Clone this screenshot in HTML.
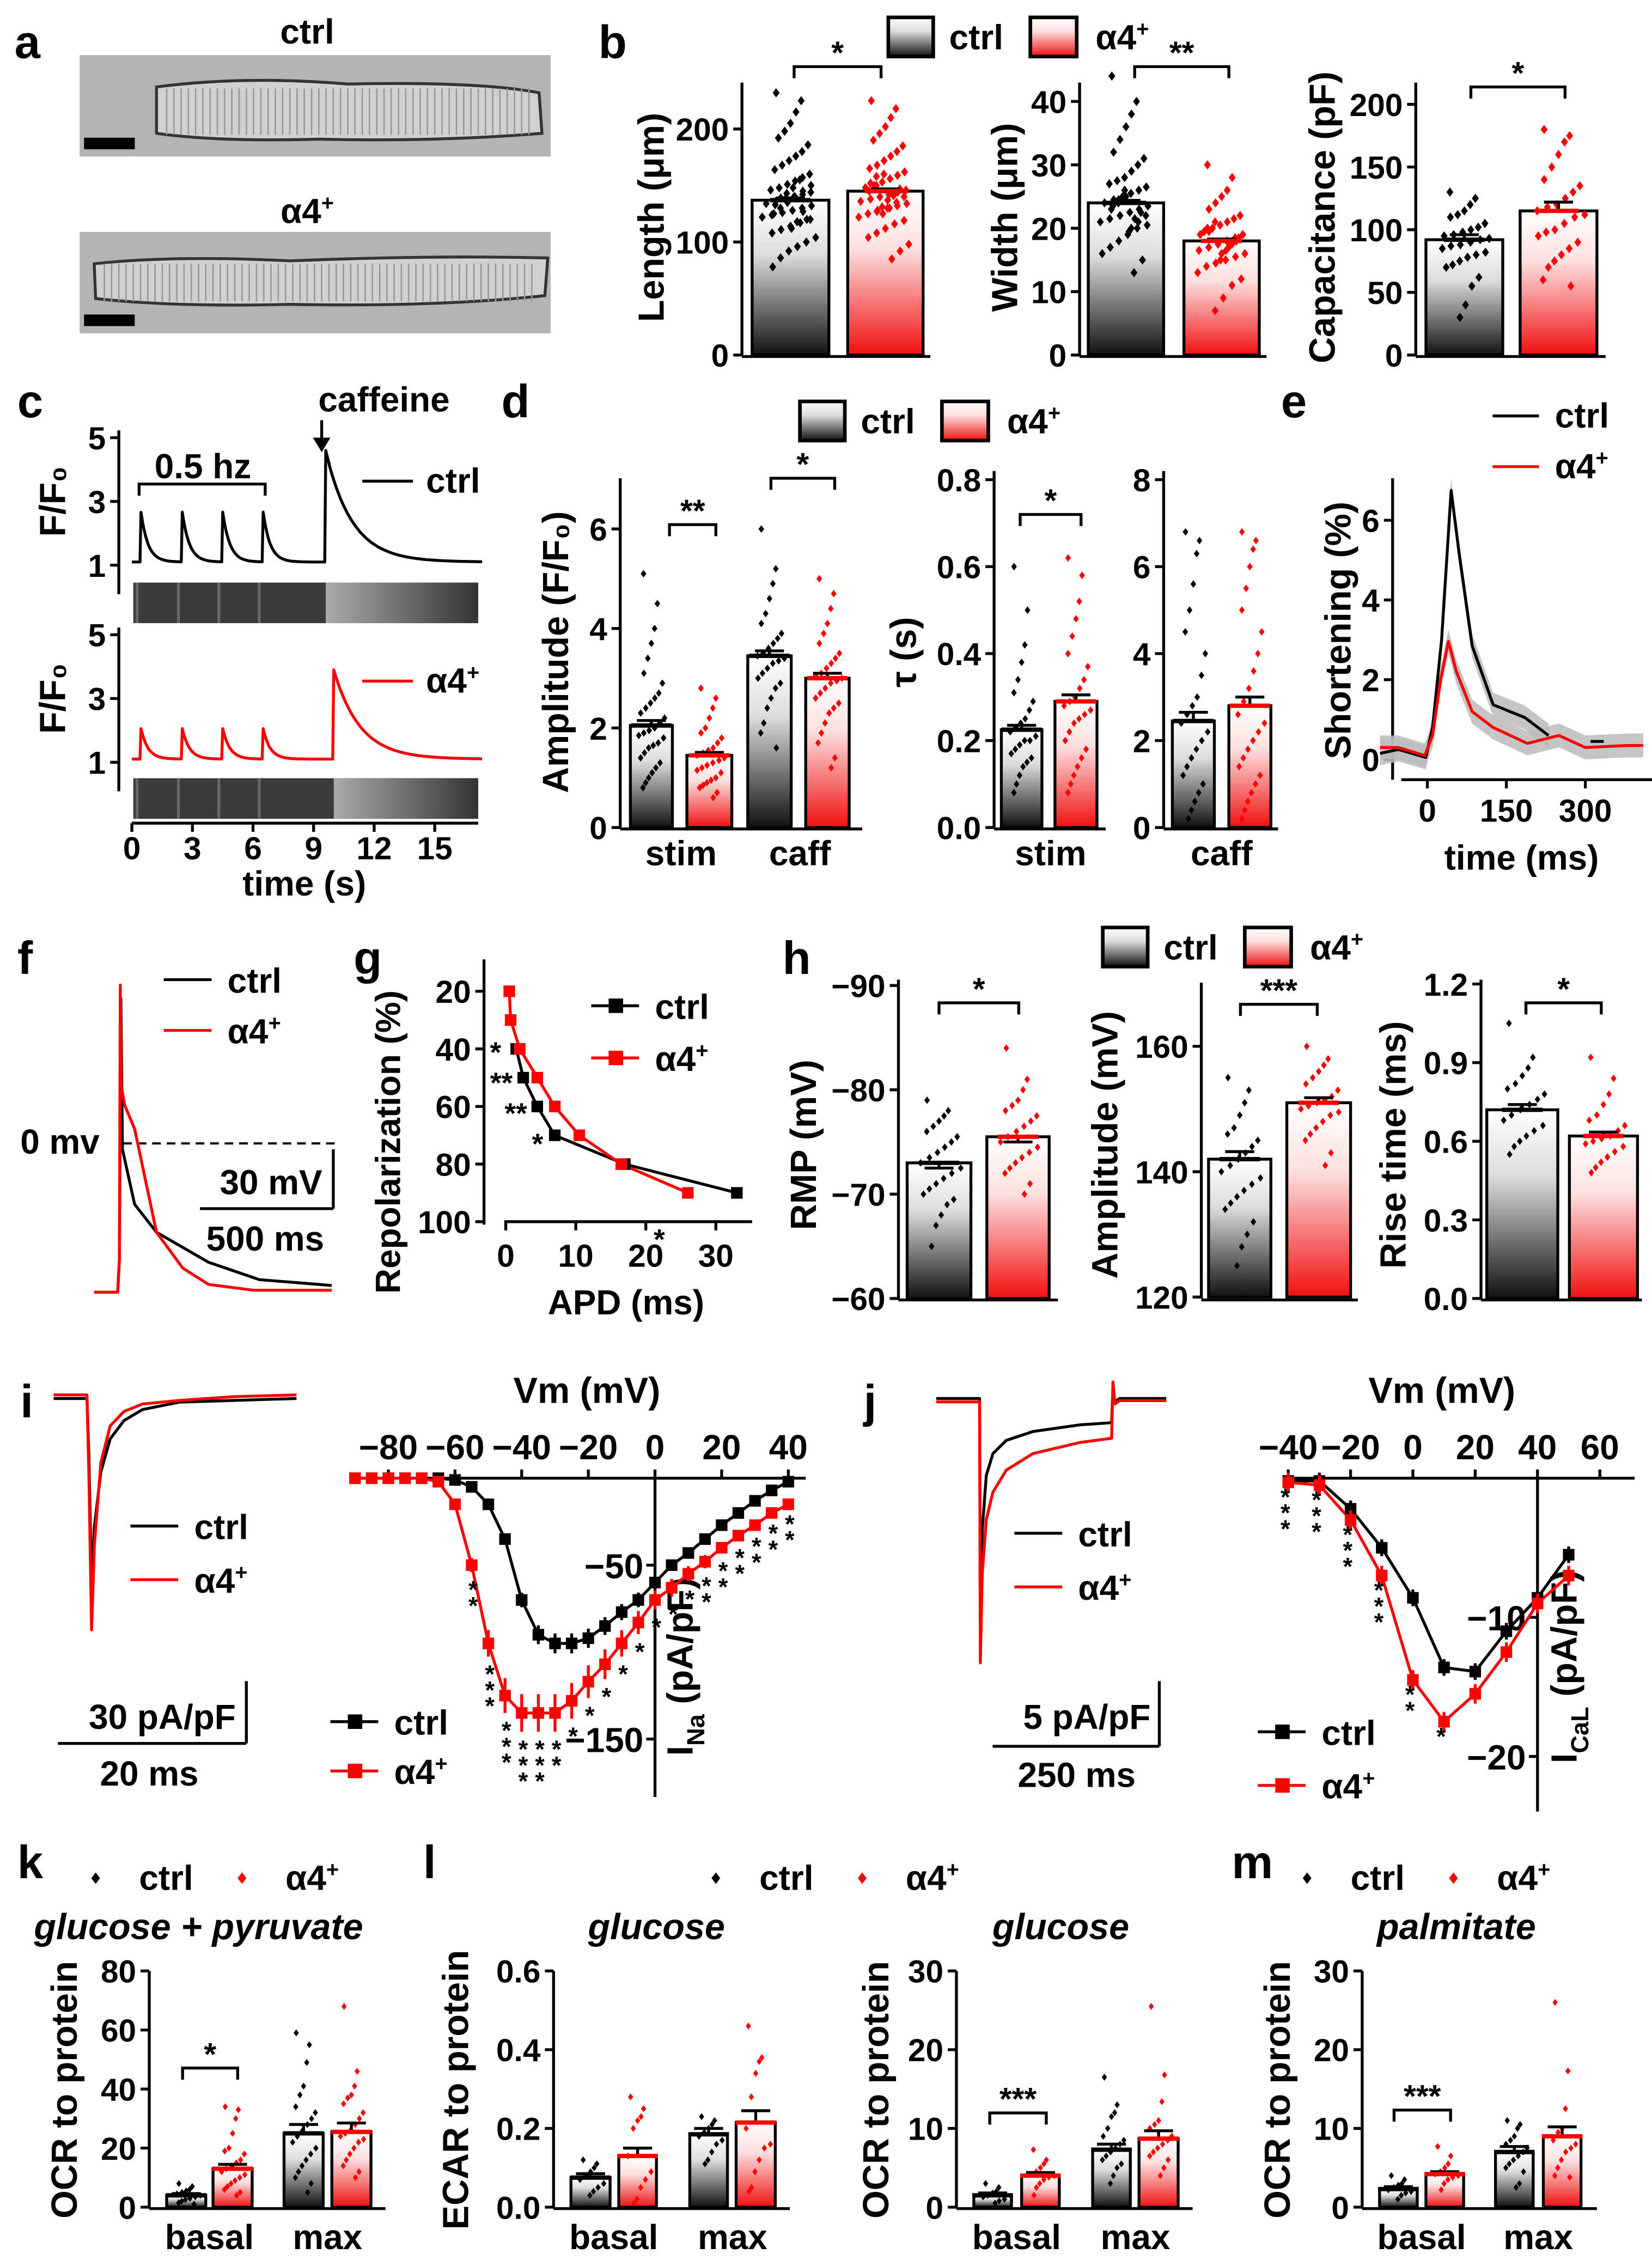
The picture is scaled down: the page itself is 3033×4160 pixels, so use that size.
<!DOCTYPE html>
<html><head><meta charset="utf-8"><style>
html,body{margin:0;padding:0;background:#fff;}
svg{display:block;}
text{font-family:"Liberation Sans",Arial,sans-serif;font-weight:bold;fill:#000;}
</style></head><body>
<svg id="fig" xmlns="http://www.w3.org/2000/svg" width="3033" height="4160" viewBox="0 0 1140 1563.6" preserveAspectRatio="none">
<defs>
<linearGradient id="gK" x1="0" y1="0" x2="0" y2="1"><stop offset="0" stop-color="#fff"/><stop offset="0.35" stop-color="#ddd"/><stop offset="1" stop-color="#111"/></linearGradient>
<linearGradient id="gR" x1="0" y1="0" x2="0" y2="1"><stop offset="0" stop-color="#fff"/><stop offset="0.35" stop-color="#fde0e0"/><stop offset="1" stop-color="#f01010"/></linearGradient>
<linearGradient id="gStrip" x1="0" y1="0" x2="1" y2="0"><stop offset="0" stop-color="#aaa"/><stop offset="1" stop-color="#333"/></linearGradient>
</defs>
</svg>
<script>
// ---------- data ----------
const groupNames=['ctrl','α4+'];
// b
const lenMean=[137,145], lenSem=[2,2];
const lenCtrl=[232,225,215,205,198,192,186,180,176,172,168,164,160,157,154,151,148,146,144,142,140,138,136,134,132,130,128,126,124,122,120,117,114,111,108,104,100,96,92,86,78,150,145,140,135,130,125,120,155,148,143,139,133,127,118,112];
const lenA4=[225,218,210,202,196,190,185,180,176,172,168,165,162,159,156,153,150,148,146,144,142,140,138,136,134,132,130,128,125,122,119,116,112,108,104,98,92,85,160,150,145,140,135,130,125,158,152,147,141,137,131,127];
const widMean=[24,18], widSem=[0.4,0.3];
const widCtrl=[44,40,38,36,34,32,31,30,29,28,27.5,27,26.5,26,25.5,25,24.5,24,23.5,23,22.5,22,21.5,21,20.5,20,19,18,17,16,15,13,25,24,23,22,21,20,26,24.5,23.5,22.5,21.5,19.5];
const widA4=[30,28,26,25,24,23,22,21.5,21,20.5,20,19.5,19,18.5,18,17.5,17,16.5,16,15.5,15,14.5,14,13,12,11,9,7,20,19,18,17,16,21,19.5,18.5,17.5,16.5,15];
const capMean=[92,115], capSem=[4,7];
const capCtrl=[130,125,120,115,112,110,105,102,100,98,96,95,93,92,90,88,87,85,82,80,78,75,72,70,62,55,40,30];
const capA4=[180,175,170,160,150,140,135,130,125,120,118,115,112,110,105,100,98,95,90,85,80,75,70,60,55];
// d
const ampMean=[2.05,1.45,3.45,3.0], ampSem=[0.1,0.06,0.1,0.1];
const stimCtrl=[5.1,4.5,4.0,3.7,3.4,3.1,2.9,2.7,2.6,2.5,2.4,2.3,2.2,2.1,2.0,1.95,1.9,1.85,1.8,1.7,1.65,1.6,1.5,1.4,1.3,1.2,1.1,1.0,0.9,0.8];
const stimA4=[2.8,2.6,2.4,2.2,2.0,1.9,1.8,1.7,1.6,1.55,1.5,1.45,1.4,1.35,1.3,1.25,1.2,1.15,1.1,1.0,0.95,0.9,0.85,0.8,0.7,0.6];
const caffCtrl=[6.0,5.2,4.9,4.6,4.3,4.1,3.9,3.8,3.7,3.6,3.5,3.45,3.4,3.35,3.3,3.2,3.1,3.0,2.9,2.8,2.6,2.4,2.1,1.9,1.6];
const caffA4=[5.0,4.7,4.4,4.1,3.9,3.7,3.5,3.4,3.3,3.2,3.1,3.05,3.0,2.95,2.9,2.8,2.7,2.6,2.5,2.4,2.3,2.1,1.9,1.7,1.4,1.2];
const tauStimMean=[0.225,0.29], tauStimSem=[0.01,0.015];
const tauStimCtrl=[0.6,0.5,0.42,0.38,0.34,0.31,0.29,0.27,0.25,0.24,0.23,0.22,0.21,0.2,0.2,0.19,0.18,0.17,0.16,0.15,0.14,0.12,0.1,0.08];
const tauStimA4=[0.62,0.58,0.52,0.48,0.44,0.4,0.37,0.34,0.32,0.3,0.29,0.28,0.27,0.26,0.25,0.24,0.22,0.2,0.18,0.16,0.14,0.12,0.1,0.08];
const tauCaffMean=[2.45,2.8], tauCaffSem=[0.2,0.2];
const tauCaffCtrl=[6.8,6.6,6.3,5.6,5.0,4.5,4.0,3.5,3.0,2.8,2.6,2.4,2.2,2.0,1.8,1.6,1.4,1.2,1.0,0.8,0.6,0.4,0.2];
const tauCaffA4=[6.8,6.6,6.4,6.0,5.5,5.0,4.5,4.0,3.6,3.2,2.9,2.6,2.4,2.2,2.0,1.8,1.6,1.4,1.2,1.0,0.8,0.6,0.4,0.2];
// h
const rmpMean=[-73,-75.5], rmpSem=[0.5,0.5];
const rmpCtrl=[-79,-78,-77.5,-77,-76.5,-76,-75.5,-75,-74.5,-74,-73.5,-73,-72.5,-72,-71.5,-71,-70.5,-70,-69.5,-69,-68,-67,-65];
const rmpA4=[-84,-81,-80,-79,-78.5,-78,-77.5,-77,-76.5,-76,-75.5,-75,-74.5,-74,-73.5,-73,-72.5,-72,-71,-70];
const apAmpMean=[142,151], apAmpSem=[1.2,0.8];
const apAmpCtrl=[155,153,151,149,147,146,145,144,143,142,141,140,139,138,137,136,135,134,132,130,128,125];
const apAmpA4=[160,158,157,156,155,154,153,152,151.5,151,150.5,150,149.5,149,148,147,146,145,143,141];
const riseMean=[0.72,0.62], riseSem=[0.02,0.015];
const riseCtrl=[1.05,0.92,0.88,0.85,0.82,0.8,0.78,0.76,0.74,0.72,0.7,0.68,0.66,0.64,0.62,0.6,0.58,0.55];
const riseA4=[0.92,0.84,0.78,0.74,0.7,0.68,0.66,0.64,0.62,0.61,0.6,0.59,0.58,0.56,0.54,0.52,0.5,0.48];
// k l m
const kMean=[4,13,25,25.5], kSem=[0.6,1.5,3,3];
const kBasalCtrl=[8,7,6,5.5,5,4.5,4,3.5,3,2.5,2,1.5,1];
const kBasalA4=[34,33,30,25,20,19,18,16,15,14,13,12,11,10,9,8,7,6,5,4];
const kMaxCtrl=[59,55,49,41,38,34,32,30,28,26,24,22,20,18,16,14,12,10,8,5];
const kMaxA4=[68,46,41,38,37,35,32,30,28,26,25,24,23,22,20,18,16,14,12,10];
const ecarMean=[0.075,0.13,0.185,0.215], ecarSem=[0.01,0.02,0.015,0.03];
const ecarBasalCtrl=[0.12,0.11,0.1,0.09,0.08,0.07,0.06,0.05,0.04,0.03];
const ecarBasalA4=[0.28,0.25,0.23,0.22,0.2,0.13,0.09,0.07,0.05,0.02,0.01];
const ecarMaxCtrl=[0.23,0.22,0.21,0.2,0.19,0.18,0.17,0.16,0.14,0.12,0.11];
const ecarMaxA4=[0.46,0.38,0.37,0.34,0.28,0.2,0.16,0.15,0.12,0.09,0.05,0.04];
const lMean=[1.5,4,7.3,8.7], lSem=[0.3,0.4,0.7,1];
const lBasalCtrl=[3,2.5,2,1.8,1.5,1.3,1,0.8,0.5];
const lBasalA4=[7.3,6,5.5,5,4.5,4.2,4,3.8,3.5,3,2.5,1.5];
const lMaxCtrl=[16.5,13,12,11.5,10,9,8.5,8,7.5,7,6.5,6,5.5,5,4,3];
const lMaxA4=[25.5,16.8,13.4,11,10.5,10,9,8.5,8,7.5,7,6.5,6,5,4];
const mMean=[2.3,4.2,7,9], mSem=[0.3,0.3,0.7,1.2];
const mBasalCtrl=[4,3.5,3,2.8,2.5,2.2,2,1.8,1.5,1];
const mBasalA4=[7.7,6.5,5.5,5,4.5,4.2,4,3.8,3.5,3,2.2];
const mMaxCtrl=[11,10.5,10,9,8.5,8,7.5,7,6.5,6,5.5,5,4.5,3,2.5];
const mMaxA4=[26,17.3,12.5,10,9.5,8.5,8,7.5,7,6,5,4,3.8];
// c: Ca transients
const cSpikeT=[0.4,2.45,4.45,6.45], cCtrlCaffT=9.6, cA4CaffT=10.0;
const cCtrlBase=1.1, cCtrlSpike=2.9, cCtrlCaff=4.6;
const cA4Base=1.1, cA4Spike=2.2, cA4Caff=3.9;
// e: shortening
const eCtrlT=[-90,-55,-3,10,27,45,60,85,125,185,230];
const eCtrl=[0.15,0.25,0.05,0.8,3,6.75,5.2,2.85,1.37,1.05,0.6];
const eCtrlTailT=[310,335], eCtrlTail=[0.45,0.45];
const eA4T=[-90,-55,-5,10,25,40,55,85,125,190,250,300,380,410];
const eA4=[0.3,0.3,0.1,0.6,2,2.96,2.2,1.2,0.8,0.4,0.6,0.3,0.35,0.35];
// f: AP
const fCtrlT=[-98,-10,-3,2,8,54,136,331,522,793];
const fCtrlV=[-77,-77,-60,75,-3,-31.5,-46,-61.5,-70.5,-73.5];
const fA4T=[-98,-10,-3,0,4,16,54,136,234,331,500,793];
const fA4V=[-77,-77,-60,82,30,20,7.5,-46,-64.5,-73,-76,-76];
// g
const gCtrlAPD=[1.5,2.5,4.5,7,17,33], gCtrlRep=[40,50,60,70,80,90];
const gA4APD=[0.5,0.7,2,4.5,7,10.5,16.5,26], gA4Rep=[20,30,40,50,60,70,80,90];
// i
const iTrT=[-3.6,0,0.2,0.5,0.8,1.5,2.5,4,6,10,16,22.6];
const iTrCtrl=[0,0,-30,-102,-70,-40,-22,-12,-6,-2,-1,0];
const iTrA4=[2,2,-40,-126,-80,-35,-15,-7,-3,-1,1,2];
const ivNaV=[-90,-85,-80,-75,-70,-65,-60,-55,-50,-45,-40,-35,-30,-25,-20,-15,-10,-5,0,5,10,15,20,25,30,35,40];
const ivNaCtrl=[0,0,0,0,0,0,-1,-5,-15,-35,-70,-90,-95,-95,-92,-85,-77,-70,-60,-50,-43,-35,-27,-20,-13,-7,-2];
const ivNaA4=[0,0,0,0,0,-2,-15,-50,-95,-125,-135,-135,-135,-128,-117,-107,-95,-83,-70,-63,-55,-48,-40,-33,-27,-20,-15];
const ivNaSig=['','','','','','','','**','***','***','***','***','**','*','*','*','*','*','*','*','*','**','**','**','**','**','**'];
// j
const jTrT=[-65,0,1,4,10,20,40,80,150,198,200,203,210,280];
const jTrCtrl=[0,0,-21,-12,-7,-5,-3.8,-3,-2.4,-2.2,1,-0.3,0,0];
const jTrA4=[-0.3,-0.3,-24,-16,-11,-8.5,-6.5,-5,-4,-3.6,1.5,-0.5,-0.2,-0.2];
const ivCaV=[-40,-30,-20,-10,0,10,20,30,40,50];
const ivCaCtrl=[-0.2,-0.2,-2.2,-5,-8.6,-13.6,-13.9,-11,-8.6,-5.5];
const ivCaA4=[-0.3,-0.5,-3,-7,-14.5,-17.5,-15.5,-12.5,-9,-7];
const ivCaSig=['***','***','***','***','**','*','','','',''];

// ---------- helpers ----------
const NS='http://www.w3.org/2000/svg';
const svg=document.getElementById('fig');
function mk(tag,attrs,name,parent){
  const el=document.createElementNS(NS,tag);
  for(const k in attrs) el.setAttribute(k,attrs[k]);
  
  
  (parent||svg).appendChild(el);
  return el;
}
function lin(d0,d1,r0,r1){return v=>r0+(v-d0)*(r1-r0)/(d1-d0);}
function T(x,y,s,name,o){
  o=o||{};
  const el=mk('text',{x:x,y:y,'font-size':o.fs||22,'text-anchor':o.a||'middle'},name);
  if(o.rot) el.setAttribute('transform','rotate(-90 '+x+' '+y+')');
  if(o.italic) el.setAttribute('font-style','italic');
  if(o.html) el.innerHTML=s; else el.textContent=s;
  return el;
}
const A4='α4<tspan dy="-9" font-size="15">+</tspan>';
function L(x1,y1,x2,y2,name,c,w){return mk('line',{x1:x1,y1:y1,x2:x2,y2:y2,stroke:c||'#000','stroke-width':w||2},name);}
function poly(xs,ys,sx,sy,name,c,w){
  const pts=xs.map((x,i)=>sx(x).toFixed(1)+','+sy(ys[i]).toFixed(1)).join(' ');
  return mk('polyline',{points:pts,fill:'none',stroke:c,'stroke-width':w||2,'stroke-linejoin':'round'},name);
}
function yAxis(x,sy,ticks,labels,top,bot,name){
  L(x,top,x,bot,name+'-line');
  ticks.forEach((t,i)=>{L(x-6,sy(t),x,sy(t),name+'-tick');T(x-9,sy(t)+8,labels[i],name+'-tick-label',{a:'end'});});
}
function bracket(x1,x2,y,label,name){
  mk('path',{d:`M${x1},${y+8}V${y}H${x2}V${y+8}`,fill:'none',stroke:'#000','stroke-width':2},name);
  T((x1+x2)/2,y-2,label,name+'-label',{fs:22});
}
function diamond(cx,cy,r,c,name){
  return mk('path',{d:`M${cx},${cy-r}L${cx+r*0.75},${cy}L${cx},${cy+r}L${cx-r*0.75},${cy}Z`,fill:c},name);
}
function bars(groups,sy,base,name,r){
  groups.forEach((g,gi)=>{
    const yb=sy(base), ym=sy(g.mean);
    mk('rect',{x:g.x0,y:Math.min(yb,ym),width:g.x1-g.x0,height:Math.abs(yb-ym),fill:'url(#'+(g.red?'gR':'gK')+')',stroke:'#000','stroke-width':2},name+'-bar-'+gi);
    const w=g.x1-g.x0, cx=(g.x0+g.x1)/2, c=g.red?'#f00':'#000';
    g.pts.forEach((v,i)=>{
      const j=(((i*53)%29)/28-0.5)*w*0.75*(1-Math.min(0.6,Math.abs(i-g.pts.length/2)/g.pts.length));
      diamond(cx+j,sy(v),r||3.2,c,name+'-point');
    });
    const ye=sy(g.mean+(sy(base)>sy(g.mean)?g.sem:-g.sem));
    L(cx,ym,cx,ye,name+'-errorbar');
    L(cx-10,ye,cx+10,ye,name+'-errorcap');
    L(cx-14,ym,cx+14,ym,name+'-mean',c,3);
  });
}
function legendBoxes(x,y,name){
  mk('rect',{x:x,y:y,width:31,height:27,fill:'url(#gK)',stroke:'#000','stroke-width':2.5},name+'-ctrl-swatch');
  T(x+42,y+22,'ctrl',name+'-ctrl-label',{a:'start',fs:24});
  mk('rect',{x:x+98,y:y,width:32,height:27,fill:'url(#gR)',stroke:'#000','stroke-width':2.5},name+'-a4-swatch');
  T(x+143,y+22,A4,name+'-a4-label',{a:'start',fs:24,html:1});
}
function legendLines(x,y1,y2,name,marker){
  L(x,y1,x+33,y1,name+'-ctrl-line','#000',2);
  L(x,y2,x+33,y2,name+'-a4-line','#f00',2);
  if(marker){mk('rect',{x:x+12,y:y1-5,width:10,height:10,fill:'#000'},name+'-ctrl-marker');mk('rect',{x:x+12,y:y2-5,width:10,height:10,fill:'#f00'},name+'-a4-marker');}
  T(x+44,y1+9,'ctrl',name+'-ctrl-label',{a:'start',fs:24});
  T(x+44,y2+9,A4,name+'-a4-label',{a:'start',fs:24,html:1});
}
function letter(x,y,s){T(x,y,s,'panel-label-'+s,{a:'start',fs:32});}

// ---------- panel letters ----------
[['a',10,40],['b',413,40],['c',12,288],['d',346,288],['e',884,288],['f',12,672],['g',244,672],['h',540,672],['i',14,978],['j',596,978],['k',12,1296],['l',292,1296],['m',850,1296]].forEach(p=>letter(p[1],p[2],p[0]));

// ---------- a: cell images ----------
[[38,'M108,60 Q170,52 240,58 Q330,56 372,64 L374,92 Q300,98 220,96 Q150,98 108,92 Z'],[160,'M65,182 Q120,176 200,180 Q300,176 378,178 L376,204 Q300,212 200,210 Q120,212 66,206 Z']].forEach((c,i)=>{
  mk('rect',{x:55,y:c[0],width:325,height:70,fill:'#b4b4b4'},'cell-image-'+i);
  mk('path',{d:c[1],fill:'#d0d0d0',stroke:'#333','stroke-width':2},'cell-outline-'+i);
  mk('rect',{x:58,y:c[0]+57,width:35,height:8,fill:'#000'},'scale-bar-'+i);
});
T(212,30,'ctrl','image-title-ctrl',{fs:24});
T(212,154,A4,'image-title-a4',{fs:24,html:1});
for(let x=115;x<370;x+=5){L(x,61,x,93,'cell-striation','#999',1);}
for(let x=72;x<372;x+=5){L(x,182,x,208,'cell-striation','#999',1);}

// ---------- b ----------
legendBoxes(613,12,'legend-b');
{const sy=lin(0,200,245,89);
 yAxis(512,sy,[0,100,200],['0','100','200'],57,245,'b-length-yaxis');
 L(512,246,642,246,'b-length-xaxis');
 bars([{x0:519,x1:572,mean:lenMean[0],sem:lenSem[0],pts:lenCtrl},{x0:585,x1:637,mean:lenMean[1],sem:lenSem[1],pts:lenA4,red:1}],sy,0,'b-length');
 bracket(548,608,46,'*','b-length-sig');
 T(458,150,'Length (μm)','b-length-ylabel',{rot:1,fs:25});}
{const sy=lin(0,40,245,70);
 yAxis(745,sy,[0,10,20,30,40],['0','10','20','30','40'],57,245,'b-width-yaxis');
 L(745,246,874,246,'b-width-xaxis');
 bars([{x0:751,x1:803,mean:widMean[0],sem:widSem[0],pts:widCtrl},{x0:817,x1:869,mean:widMean[1],sem:widSem[1],pts:widA4,red:1}],sy,0,'b-width');
 bracket(783,848,46,'**','b-width-sig');
 T(702,150,'Width (μm)','b-width-ylabel',{rot:1,fs:25});}
{const sy=lin(0,200,245,72);
 yAxis(977,sy,[0,50,100,150,200],['0','50','100','150','200'],57,245,'b-cap-yaxis');
 L(977,246,1108,246,'b-cap-xaxis');
 bars([{x0:984,x1:1037,mean:capMean[0],sem:capSem[0],pts:capCtrl},{x0:1049,x1:1102,mean:capMean[1],sem:capSem[1],pts:capA4,red:1}],sy,0,'b-cap');
 bracket(1015,1080,60,'*','b-cap-sig');
 T(921,150,'Capacitance (pF)','b-cap-ylabel',{rot:1,fs:25});}

// ---------- c ----------
function caTrace(base,spike,caff,caffT){
  const ts=[],vs=[];
  for(let t=0;t<=17.4;t+=0.05){
    let v=base;
    cSpikeT.forEach(s=>{if(t>=s){v+=(spike-base)*Math.exp(-(t-s)/0.35);}});
    if(t>=caffT){v+=(caff-base)*Math.exp(-(t-caffT)/1.3);}
    ts.push(t);vs.push(v);
  }
  return [ts,vs];
}
{const sx=lin(0,15,91,300);
 [[302,390,cCtrlBase,cCtrlSpike,cCtrlCaff,'#000','c-ctrl-trace',402,cCtrlCaffT],[438,526,cA4Base,cA4Spike,cA4Caff,'#f00','c-a4-trace',537,cA4CaffT]].forEach(r=>{
  const sy=lin(5,1,r[0],r[1]);
  yAxis(82,sy,[1,3,5],['1','3','5'],r[0]-5,r[1]+20,r[6]+'-yaxis');
  const tr=caTrace(r[2],r[3],r[4],r[8]);
  poly(tr[0],tr[1],sx,sy,r[6],r[5],2);
  mk('rect',{x:92,y:r[7],width:238,height:28,fill:'#3a3a3a'},r[6]+'-linescan');
  mk('rect',{x:sx(r[8]),y:r[7],width:330-sx(r[8]),height:28,fill:'url(#gStrip)'},r[6]+'-linescan-caffeine');
  cSpikeT.forEach(s=>L(sx(s)-2,r[7],sx(s)-2,r[7]+28,r[6]+'-linescan-band','#666',2));
  T(45,(r[0]+r[1])/2,'F/F₀','c-ylabel',{rot:1,fs:25});
 });
 L(91,568,330,568,'c-xaxis');
 [0,3,6,9,12,15].forEach(t=>{L(sx(t),568,sx(t),574,'c-xtick');T(sx(t),593,String(t),'c-xtick-label');});
 T(210,618,'time (s)','c-xlabel',{fs:24});
 mk('path',{d:'M96,342V334H183V342',fill:'none',stroke:'#000','stroke-width':2},'c-pacing-bracket');
 T(140,330,'0.5 hz','c-pacing-label',{fs:24});
 T(265,284,'caffeine','c-caffeine-label',{fs:24});
 L(222,290,222,308,'c-caffeine-arrow');
 mk('path',{d:'M216,302L222,312L228,302Z',fill:'#000'},'c-caffeine-arrowhead');
 L(250,332,285,332,'c-legend-ctrl-line','#000');T(294,340,'ctrl','c-legend-ctrl',{a:'start',fs:24});
 L(250,470,285,470,'c-legend-a4-line','#f00');T(294,478,A4,'c-legend-a4',{a:'start',fs:24,html:1});}

// ---------- d ----------
legendBoxes(552,277,'legend-d');
{const sy=lin(0,6,571,365);
 yAxis(428,sy,[0,2,4,6],['0','2','4','6'],330,571,'d-amp-yaxis');
 L(428,572,595,572,'d-amp-xaxis');
 bars([{x0:435,x1:464,mean:ampMean[0],sem:ampSem[0],pts:stimCtrl},{x0:474,x1:505,mean:ampMean[1],sem:ampSem[1],pts:stimA4,red:1},{x0:516,x1:546,mean:ampMean[2],sem:ampSem[2],pts:caffCtrl},{x0:556,x1:586,mean:ampMean[3],sem:ampSem[3],pts:caffA4,red:1}],sy,0,'d-amp',2.6);
 bracket(462,494,362,'**','d-amp-stim-sig');bracket(532,576,330,'*','d-amp-caff-sig');
 T(470,597,'stim','d-amp-xlabel-stim',{fs:24});T(552,597,'caff','d-amp-xlabel-caff',{fs:24});
 T(392,450,'Amplitude (F/F₀)','d-amp-ylabel',{rot:1,fs:25});}
{const sy=lin(0,0.8,571,331);
 yAxis(686,sy,[0,0.2,0.4,0.6,0.8],['0.0','0.2','0.4','0.6','0.8'],325,571,'d-tau-yaxis');
 L(686,572,763,572,'d-tau-xaxis');
 bars([{x0:691,x1:719,mean:tauStimMean[0],sem:tauStimSem[0],pts:tauStimCtrl},{x0:728,x1:757,mean:tauStimMean[1],sem:tauStimSem[1],pts:tauStimA4,red:1}],sy,0,'d-tau-stim',2.6);
 bracket(704,746,355,'*','d-tau-sig');
 T(725,597,'stim','d-tau-xlabel',{fs:24});
 T(632,450,'τ (s)','d-tau-ylabel',{rot:1,fs:25});}
{const sy=lin(0,8,571,331);
 yAxis(803,sy,[0,2,4,6,8],['0','2','4','6','8'],325,571,'d-tauc-yaxis');
 L(803,572,882,572,'d-tauc-xaxis');
 bars([{x0:809,x1:838,mean:tauCaffMean[0],sem:tauCaffSem[0],pts:tauCaffCtrl},{x0:848,x1:877,mean:tauCaffMean[1],sem:tauCaffSem[1],pts:tauCaffA4,red:1}],sy,0,'d-tau-caff',2.6);
 T(843,597,'caff','d-tauc-xlabel',{fs:24});}

// ---------- e ----------
{const sx=lin(0,300,985,1094), sy=lin(0,6,524,359);
 yAxis(961,sy,[0,2,4,6],['0','2','4','6'],330,538,'e-yaxis');
 L(967,538,1140,538,'e-xaxis');
 [0,150,300].forEach(t=>{L(sx(t),538,sx(t),544,'e-xtick');T(sx(t),567,String(t),'e-xtick-label');});
 function band(ts,vs,name){
   const up=ts.map((t,i)=>sx(t)+','+sy(vs[i]+0.3)).join(' ');
   const dn=ts.map((t,i)=>sx(t)+','+sy(vs[i]-0.3)).reverse().join(' ');
   mk('polygon',{points:up+' '+dn,fill:'#bbb',opacity:0.85},name);
 }
 band(eCtrlT,eCtrl,'e-ctrl-sem-band');
 band(eA4T,eA4,'e-a4-sem-band');
 poly(eCtrlT,eCtrl,sx,sy,'e-ctrl-trace','#000',2);
 poly(eCtrlTailT,eCtrlTail,sx,sy,'e-ctrl-trace-tail','#000',2);
 poly(eA4T,eA4,sx,sy,'e-a4-trace','#f00',2);
 T(1050,600,'time (ms)','e-xlabel',{fs:24});
 T(932,435,'Shortening (%)','e-ylabel',{rot:1,fs:25});
 L(1030,287,1062,287,'e-legend-ctrl-line');T(1073,295,'ctrl','e-legend-ctrl',{a:'start',fs:24});
 L(1030,322,1062,322,'e-legend-a4-line','#f00');T(1073,330,A4,'e-legend-a4',{a:'start',fs:24,html:1});}

// ---------- f ----------
{const sx=lin(0,500,83,175), sy=lin(0,30,789,749);
 L(85,789,232,789,'f-zero-line','#000',1.5).setAttribute('stroke-dasharray','6,4');
 T(14,796,'0 mv','f-zero-label',{a:'start',fs:24});
 poly(fCtrlT,fCtrlV,sx,sy,'f-ctrl-ap','#000',2);
 poly(fA4T,fA4V,sx,sy,'f-a4-ap','#f00',2);
 L(230,793,230,834,'f-scale-v');L(138,834,230,834,'f-scale-h');
 T(187,824,'30 mV','f-scale-v-label',{fs:24});T(183,863,'500 ms','f-scale-h-label',{fs:24});
 legendLines(113,676,711,'f-legend');}

// ---------- g ----------
{const sx=lin(0,30,349,494), sy=lin(20,100,684,843);
 yAxis(334,sy,[20,40,60,80,100],['20','40','60','80','100'],662,845,'g-yaxis');
 L(348,843,519,843,'g-xaxis');
 [0,10,20,30].forEach(t=>{L(sx(t),843,sx(t),849,'g-xtick');T(sx(t),874,String(t),'g-xtick-label');});
 poly(gCtrlAPD,gCtrlRep,sx,sy,'g-ctrl-line','#000',2);
 poly(gA4APD,gA4Rep,sx,sy,'g-a4-line','#f00',2);
 gCtrlAPD.forEach((v,i)=>mk('rect',{x:sx(v)-4,y:sy(gCtrlRep[i])-4,width:8,height:8,fill:'#000'},'g-ctrl-point'));
 gA4APD.forEach((v,i)=>mk('rect',{x:sx(v)-4,y:sy(gA4Rep[i])-4,width:8,height:8,fill:'#f00'},'g-a4-point'));
 [['*',342,733],['**',346,754],['**',356,775],['*',371,796],['*',455,862]].forEach(s=>T(s[1],s[2],s[0],'g-sig',{fs:20}));
 T(432,907,'APD (ms)','g-xlabel',{fs:24});
 T(276,788,'Repolarization (%)','g-ylabel',{rot:1,fs:24});
 legendLines(408,694,730,'g-legend',true);}

// ---------- h ----------
legendBoxes(761,640,'legend-h');
{const sy=lin(-60,-90,896,680);
 yAxis(620,sy,[-90,-80,-70,-60],['−90','−80','−70','−60'],676,896,'h-rmp-yaxis');
 L(620,897,730,897,'h-rmp-xaxis');
 bars([{x0:626,x1:670,mean:rmpMean[0],sem:rmpSem[0],pts:rmpCtrl},{x0:681,x1:724,mean:rmpMean[1],sem:rmpSem[1],pts:rmpA4,red:1}],sy,-60,'h-rmp',2.6);
 bracket(648,703,692,'*','h-rmp-sig');
 T(563,790,'RMP (mV)','h-rmp-ylabel',{rot:1,fs:25});}
{const sy=lin(120,160,895,722);
 yAxis(829,sy,[120,140,160],['120','140','160'],678,896,'h-amp-yaxis');
 L(829,897,937,897,'h-amp-xaxis');
 bars([{x0:834,x1:877,mean:apAmpMean[0],sem:apAmpSem[0],pts:apAmpCtrl},{x0:888,x1:932,mean:apAmpMean[1],sem:apAmpSem[1],pts:apAmpA4,red:1}],sy,120,'h-amp',2.6);
 bracket(856,909,693,'***','h-amp-sig');
 T(771,790,'Amplitude (mV)','h-amp-ylabel',{rot:1,fs:25});}
{const sy=lin(0,1.2,896,679);
 yAxis(1022,sy,[0,0.3,0.6,0.9,1.2],['0.0','0.3','0.6','0.9','1.2'],676,896,'h-rise-yaxis');
 L(1022,897,1133,897,'h-rise-xaxis');
 bars([{x0:1026,x1:1075,mean:riseMean[0],sem:riseSem[0],pts:riseCtrl},{x0:1083,x1:1130,mean:riseMean[1],sem:riseSem[1],pts:riseA4,red:1}],sy,0,'h-rise',2.6);
 bracket(1053,1105,692,'*','h-rise-sig');
 T(970,790,'Rise time (ms)','h-rise-ylabel',{rot:1,fs:25});}

// ---------- i ----------
{const sx=lin(0,20,60,188), sy=lin(0,-30,965,1003);
 poly(iTrT,iTrCtrl,sx,sy,'i-ctrl-trace','#000',2);
 poly(iTrT,iTrA4,sx,sy,'i-a4-trace','#f00',2);
 L(170,1160,170,1203,'i-scale-v');L(40,1203,170,1203,'i-scale-h');
 T(112,1193,'30 pA/pF','i-scale-v-label',{fs:24});T(103,1232,'20 ms','i-scale-h-label',{fs:24});
 legendLines(90,1053,1090,'i-legend');}
{const sx=lin(0,40,452,544), sy=lin(0,-150,1020,1200);
 L(242,1020,556,1020,'i-iv-xaxis');
 [-80,-60,-40,-20,0,20,40].forEach(v=>{L(sx(v),1014,sx(v),1020,'i-iv-xtick');T(sx(v),1007,v<0?'−'+(-v):String(v),'i-iv-xtick-label',{fs:24});});
 T(405,968,'Vm (mV)','i-iv-xlabel',{fs:25});
 L(452,1020,452,1240,'i-iv-yaxis');
 [-50,-150].forEach(v=>{L(446,sy(v),452,sy(v),'i-iv-ytick');T(444,sy(v)+9,'−'+(-v),'i-iv-ytick-label',{a:'end',fs:24});});
 T(478,1150,'I<tspan dy="8" font-size="17">Na</tspan><tspan dy="-8"> (pA/pF)</tspan>','i-iv-ylabel',{rot:1,fs:25,html:1});
 poly(ivNaV,ivNaCtrl,sx,sy,'i-iv-ctrl-line','#000',2);
 poly(ivNaV,ivNaA4,sx,sy,'i-iv-a4-line','#f00',2);
 ivNaV.forEach((v,i)=>{
   const e=Math.abs(ivNaCtrl[i])*0.06;
   L(sx(v),sy(ivNaCtrl[i]-e),sx(v),sy(ivNaCtrl[i]+e),'i-iv-ctrl-err');
   mk('rect',{x:sx(v)-4,y:sy(ivNaCtrl[i])-4,width:8,height:8,fill:'#000'},'i-iv-ctrl-point');
   const e2=Math.abs(ivNaA4[i])*0.08;
   L(sx(v),sy(ivNaA4[i]-e2),sx(v),sy(ivNaA4[i]+e2),'i-iv-a4-err','#f00');
   mk('rect',{x:sx(v)-4,y:sy(ivNaA4[i])-4,width:8,height:8,fill:'#f00'},'i-iv-a4-point');
   const s=ivNaSig[i];
   for(let k=0;k<s.length;k++) T(sx(v)+1,sy(ivNaA4[i]-e2)+18+k*11,'*','i-iv-sig',{fs:17});
 });
 legendLines(228,1188,1222,'i-iv-legend',true);}

// ---------- j ----------
{const sx=lin(0,250,676,791), sy=lin(0,-5,965,1003);
 poly(jTrT,jTrCtrl,sx,sy,'j-ctrl-trace','#000',2);
 poly(jTrT,jTrA4,sx,sy,'j-a4-trace','#f00',2);
 L(800,1160,800,1205,'j-scale-v');L(685,1205,800,1205,'j-scale-h');
 T(750,1193,'5 pA/pF','j-scale-v-label',{fs:24});T(743,1233,'250 ms','j-scale-h-label',{fs:24});
 legendLines(700,1058,1095,'j-legend');}
{const sx=lin(0,40,975,1061), sy=lin(0,-20,1020,1212);
 L(885,1020,1128,1020,'j-iv-xaxis');
 [-40,-20,0,20,40,60].forEach(v=>{L(sx(v),1014,sx(v),1020,'j-iv-xtick');T(sx(v),1007,v<0?'−'+(-v):String(v),'j-iv-xtick-label',{fs:24});});
 T(995,968,'Vm (mV)','j-iv-xlabel',{fs:25});
 L(1061,1020,1061,1250,'j-iv-yaxis');
 [-10,-20].forEach(v=>{L(1055,sy(v),1061,sy(v),'j-iv-ytick');T(1053,sy(v)+9,'−'+(-v),'j-iv-ytick-label',{a:'end',fs:24});});
 T(1088,1150,'I<tspan dy="8" font-size="17">CaL</tspan><tspan dy="-8"> (pA/pF)</tspan>','j-iv-ylabel',{rot:1,fs:25,html:1});
 poly(ivCaV,ivCaCtrl,sx,sy,'j-iv-ctrl-line','#000',2);
 poly(ivCaV,ivCaA4,sx,sy,'j-iv-a4-line','#f00',2);
 ivCaV.forEach((v,i)=>{
   L(sx(v),sy(ivCaCtrl[i]-0.6),sx(v),sy(ivCaCtrl[i]+0.6),'j-iv-ctrl-err');
   mk('rect',{x:sx(v)-4,y:sy(ivCaCtrl[i])-4,width:8,height:8,fill:'#000'},'j-iv-ctrl-point');
   L(sx(v),sy(ivCaA4[i]-0.7),sx(v),sy(ivCaA4[i]+0.7),'j-iv-a4-err','#f00');
   mk('rect',{x:sx(v)-4,y:sy(ivCaA4[i])-4,width:8,height:8,fill:'#f00'},'j-iv-a4-point');
   const s=ivCaSig[i];
   for(let k=0;k<s.length;k++) T(sx(v)-2,sy(ivCaA4[i])+16+k*11,'*','j-iv-sig',{fs:17});
 });
 legendLines(868,1195,1232,'j-iv-legend',true);}

// ---------- k l m ----------
function dotLegend(x,y,name){
  diamond(x,y-7,4,'#000',name+'-ctrl-marker');T(x+30,y+1,'ctrl',name+'-ctrl-label',{a:'start',fs:24});
  diamond(x+101,y-7,4,'#f00',name+'-a4-marker');T(x+131,y+1,A4,name+'-a4-label',{a:'start',fs:24,html:1});
}
function metaPanel(ax,sy,ticks,labels,xs,xend,means,sems,sets,name,ylabel,ylx,title,tx,sig){
  yAxis(ax,sy,ticks,labels,1360,1524,name+'-yaxis');
  L(ax,1524,xend,1524,name+'-xaxis');
  bars(xs.map((x,i)=>({x0:x[0],x1:x[1],mean:means[i],sem:sems[i],pts:sets[i],red:i%2})),sy,0,name,2.4);
  T((xs[0][0]+xs[1][1])/2,1552,'basal',name+'-xlabel-basal',{fs:24});
  T((xs[2][0]+xs[3][1])/2,1552,'max',name+'-xlabel-max',{fs:24});
  T(ylx,1442,ylabel,name+'-ylabel',{rot:1,fs:25});
  T(tx,1338,title,name+'-title',{italic:1,fs:25});
  if(sig) bracket(sig[0],sig[1],sig[2],sig[3],name+'-sig');
}
dotLegend(66,1303,'k-legend');
metaPanel(103,lin(0,80,1523,1360),[0,20,40,60,80],['0','20','40','60','80'],[[115,142],[147,174],[196,223],[229,256]],266,kMean,kSem,[kBasalCtrl,kBasalA4,kMaxCtrl,kMaxA4],'k-ocr','OCR to protein',53,'glucose + pyruvate',137,[126,164,1427,'*']);
dotLegend(494,1303,'l-legend');
metaPanel(382,lin(0,0.6,1523,1360),[0,0.2,0.4,0.6],['0.0','0.2','0.4','0.6'],[[394,421],[427,453],[476,502],[508,535]],545,ecarMean,ecarSem,[ecarBasalCtrl,ecarBasalA4,ecarMaxCtrl,ecarMaxA4],'l-ecar','ECAR to protein',323,'glucose',453,null);
metaPanel(660,lin(0,30,1523,1360),[0,10,20,30],['0','10','20','30'],[[672,698],[705,731],[754,780],[786,813]],823,lMean,lSem,[lBasalCtrl,lBasalA4,lMaxCtrl,lMaxA4],'l-ocr','OCR to protein',613,'glucose',732,[683,722,1458,'***']);
dotLegend(902,1303,'m-legend');
metaPanel(940,lin(0,30,1523,1360),[0,10,20,30],['0','10','20','30'],[[952,978],[984,1010],[1032,1058],[1065,1091]],1102,mMean,mSem,[mBasalCtrl,mBasalA4,mMaxCtrl,mMaxA4],'m-ocr','OCR to protein',890,'palmitate',1005,[962,1001,1456,'***']);
</script>
</body></html>
